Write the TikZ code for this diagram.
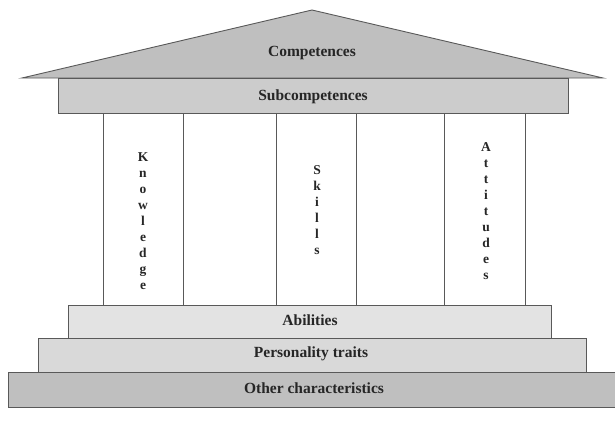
\documentclass[tikz,border=0pt]{standalone}
\usepackage{fontspec}
\setmainfont{Liberation Serif}
\begin{document}
\begin{tikzpicture}[x=1pt,y=-1pt,
  part/.style={draw=black!65,line width=0.9pt},
  lbl/.style={font=\bfseries\fontsize{15.5}{17}\selectfont,text=black!85,inner sep=0pt},
  vlbl/.style={font=\bfseries\fontsize{13.5}{16}\selectfont,text=black!85,align=center,inner sep=0pt}]
\useasboundingbox (0,0) rectangle (615,423);
% roof
\draw[part,fill=black!25] (22,78) -- (312,10) -- (603,78) -- cycle;
\node[lbl] (comp) at (312,53) {Competences};
% subcompetences
\draw[part,fill=black!20] (58,78) rectangle (568,113);
\node[lbl] (sub) at (313,97) {Subcompetences};
% pillars
\draw[part,fill=white] (103,113) rectangle (183,305);
\draw[part,fill=white] (276,113) rectangle (356,305);
\draw[part,fill=white] (444,113) rectangle (525,305);
\node[vlbl] (know) at (143,221) {K\\n\\o\\w\\l\\e\\d\\g\\e};
\node[vlbl] (skil) at (317,210) {S\\k\\i\\l\\l\\s};
\node[vlbl] (atti) at (486,211) {A\\t\\t\\i\\t\\u\\d\\e\\s};
% steps
\draw[part,fill=black!11] (68,305) rectangle (551,338);
\node[lbl] (abil) at (310,320) {Abilities};
\draw[part,fill=black!15] (38,338) rectangle (586,372);
\node[lbl] (pers) at (311,354) {Personality traits};
\draw[part,fill=black!25] (8,372) rectangle (615,407);
\node[lbl] (oth) at (314,388) {Other characteristics};
\end{tikzpicture}
\end{document}
